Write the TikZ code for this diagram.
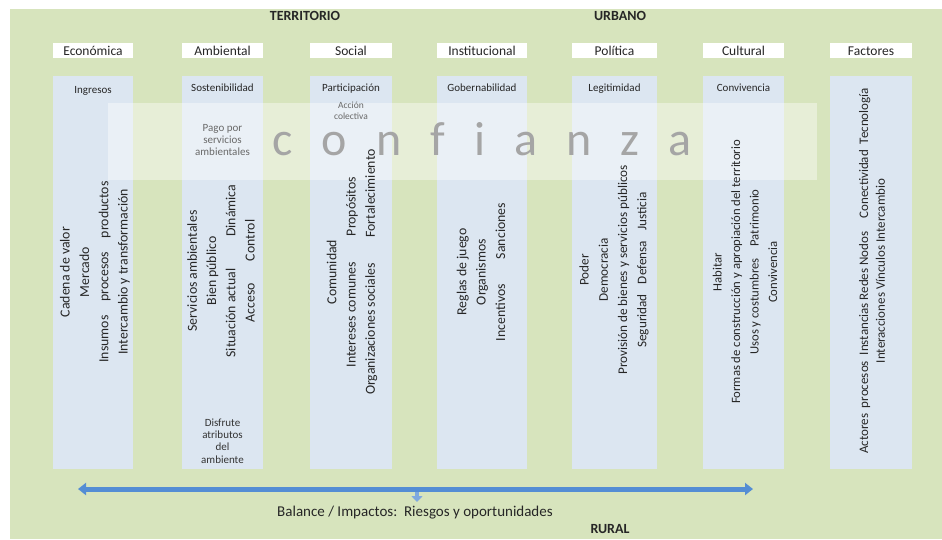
\documentclass[tikz,border=0pt]{standalone}
\usepackage{fontspec}
\setmainfont{Carlito}
\usetikzlibrary{arrows.meta}
\definecolor{fondoverde}{RGB}{215,228,189}
\definecolor{columnaazul}{RGB}{220,230,241}
\definecolor{flechaazul}{RGB}{84,141,212}
\definecolor{textogris}{RGB}{105,105,105}
\definecolor{letragris}{RGB}{165,165,165}
\def\esp{\hspace{29pt}}

\begin{document}
\begin{tikzpicture}[x=1pt, y=-1pt,
		columna/.style={fill=columnaazul, minimum width=#1, minimum height=393, inner sep=0pt},
		cabecera/.style={fill=white, minimum width=#1, minimum height=15, inner sep=0pt, text height=10pt, text depth=1pt, font=\fontsize{13.5}{15}\selectfont, text=black!85},
		subtitulo/.style={anchor=base, inner sep=0pt, font=\fontsize{11}{12}\selectfont, text=black!85},
		nota/.style={align=center, inner sep=0pt, font=\fontsize{11}{12.3}\selectfont, text=textogris},
		vertical/.style={rotate=90, align=center, inner sep=0pt, font=\fontsize{13.8}{19.3}\selectfont, text=black!85},
		zona/.style={anchor=base, inner sep=0pt, font=\fontsize{14}{16}\selectfont\bfseries, text=black!85},
		flecha/.style={draw=flechaazul, line width=5pt, {Triangle[length=8pt,width=12pt]}-{Triangle[length=8pt,width=12pt]}},
		flechabaja/.style={draw=flechaazul!75, line width=4pt, -{Triangle[length=6pt,width=11pt]}}]
			%%%%% START %%%%%
			\useasboundingbox (0,0) rectangle (942,539);
			\fill[white] (0,0) rectangle (942,539);
			\fill[fondoverde] (10,9) rectangle (942,539);
			
			\node[zona] (territorio) at (305,20.7) {TERRITORIO};
			\node[zona] (urbano) at (620,20.7) {URBANO};
			
			% columnas
			\node[columna=80] (eco) at (93,272.5) {};
			\node[columna=81] (amb) at (222.5,272.5) {};
			\node[columna=82] (soc) at (351,272.5) {};
			\node[columna=90] (inst) at (482,272.5) {};
			\node[columna=85] (pol) at (614.5,272.5) {};
			\node[columna=81] (cult) at (743.5,272.5) {};
			\node[columna=82] (fact) at (871,272.5) {};
			
			\node[cabecera=80] (ecoCab) at (93,50.5) {Económica};
			\node[cabecera=81] (ambCab) at (222.5,50.5) {Ambiental};
			\node[cabecera=82] (socCab) at (351,50.5) {Social};
			\node[cabecera=90] (instCab) at (482,50.5) {Institucional};
			\node[cabecera=85] (polCab) at (614.5,50.5) {Política};
			\node[cabecera=81] (cultCab) at (743.5,50.5) {Cultural};
			\node[cabecera=82] (factCab) at (871,50.5) {Factores};
			
			\node[subtitulo] (ecoSub) at (93,93.5) {Ingresos};
			\node[subtitulo] (ambSub) at (222.5,91) {Sostenibilidad};
			\node[subtitulo] (socSub) at (351,91) {Participación};
			\node[subtitulo] (instSub) at (482,91) {Gobernabilidad};
			\node[subtitulo] (polSub) at (614.5,91) {Legitimidad};
			\node[subtitulo] (cultSub) at (743.5,91) {Convivencia};
			
			% banda de confianza
			\fill[white, opacity=0.4] (108,103) rectangle (817,180);
			\node[anchor=base, inner sep=0pt, text height=25pt, font=\fontsize{48}{50}\selectfont, text=letragris] (confianza) at (482,155) {c\esp o\esp n\esp f\esp i\esp a\esp n\esp z\esp a};
			
			\node[nota] (ambPago) at (222.5,140) {Pago por\\servicios\\ambientales};
			\node[nota, font=\fontsize{9.5}{10.5}\selectfont] (socAccion) at (351,111) {Acción\\colectiva};
			\node[nota, text=black!80] (ambDisfrute) at (222.5,441) {Disfrute\\atributos\\del\\ambiente};
			
			% textos verticales
			\node[vertical] (ecoLista) at (95,272) {Cadena de valor\\Mercado\\Insumos\quad procesos\quad productos\\Intercambio y transformación};
			\node[vertical] (ambLista) at (221,271) {Servicios ambientales\\Bien público\\Situación actual\hspace{32pt}Dinámica\\Acceso\hspace{22pt}Control};
			\node[vertical] (socLista) at (352,272) {Comunidad\\Intereses comunes\hspace{26pt}Propósitos\\Organizaciones sociales\hspace{26pt}Fortalecimiento};
			\node[vertical] (instLista) at (481,272) {Reglas de juego\\Organismos\\Incentivos\hspace{25pt}Sanciones};
			\node[vertical, font=\fontsize{13.2}{19.3}\selectfont] (polLista) at (614,270) {Poder\\Democracia\\Provisión de bienes y servicios públicos\\Seguridad\hspace{10pt}Defensa\hspace{10pt}Justicia};
			\node[vertical, font=\fontsize{12.7}{18.5}\selectfont] (cultLista) at (745,272) {Habitar\\Formas de construcción y apropiación del territorio\\Usos y costumbres\hspace{12pt}Patrimonio\\Convivencia};
			\node[vertical, font=\fontsize{13}{16.8}\selectfont] (factLista) at (872,271) {Actores\ \ procesos\ \ Instancias\ Redes\ Nodos\quad Conectividad\ \ Tecnología\\Interacciones\ Vínculos\ Intercambio};
			
			% balance
			\coordinate (balIzq) at (78,489);
			\coordinate (balDer) at (753,489);
			\coordinate (balCentro) at (417,489);
			\coordinate (balPunta) at (417,502);
			\draw[flechabaja] (balCentro) -- (balPunta);
			\draw[flecha] (balIzq) -- (balDer);
			\node[anchor=base, inner sep=0pt, font=\fontsize{15}{17}\selectfont, text=black!85] (balance) at (415,516.5) {Balance / Impactos:\ \ Riesgos y oportunidades};
			
			\node[zona] (rural) at (610,533) {RURAL};
			%%%%% END %%%%%
		\end{tikzpicture}
\end{document}
